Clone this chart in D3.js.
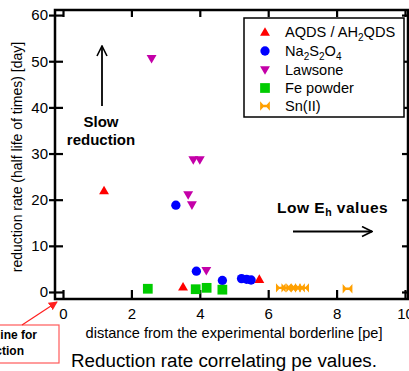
<!DOCTYPE html>
<html><head><meta charset="utf-8">
<script src="https://cdn.jsdelivr.net/npm/d3@7"></script>
<style>
html,body{margin:0;padding:0;background:#fff;overflow:hidden}
text{font-family:"Liberation Sans",Arial,sans-serif}
</style></head>
<body><svg id="c" width="409" height="371"></svg>
<script>
// ---- data ----
const xTicks = [0, 2, 4, 6, 8, 10];
const yTicks = [0, 10, 20, 30, 40, 50, 60];
const aqds = [[1.2, 22.0], [3.51, 1.15], [5.74, 2.8]];
const na2s2o4 = [[3.3, 18.8], [3.9, 4.5], [4.66, 2.5], [5.22, 2.9], [5.37, 2.75], [5.5, 2.6]];
const lawsone = [[2.59, 50.5], [3.81, 28.6], [4.0, 28.6], [3.66, 21.0], [3.77, 18.8], [4.19, 4.6]];
const fePowder = [[2.48, 0.7], [3.88, 0.6], [4.2, 0.9], [4.66, 0.5]];
const sn = [[6.37, 0.9], [6.53, 0.9], [6.67, 0.9], [6.81, 0.9], [6.93, 0.9], [7.05, 0.9], [8.32, 0.7]];
const seriesNames = ["AQDS / AH2QDS", "Na2S2O4", "Lawsone", "Fe powder", "Sn(II)"];

const svg = d3.select("#c");
const L = 55, R = 408, T = 10, B = 299;
const x = d3.scaleLinear().domain([-0.234, 10.088]).range([L, R]);
const y = d3.scaleLinear().domain([-1.52, 61.1]).range([B, T]);

// symbols
const triDown = {draw(ctx, size){ const s=Math.sqrt(size); const h=s*0.95, w=s*0.55;
  ctx.moveTo(-w,-h*0.45); ctx.lineTo(w,-h*0.45); ctx.lineTo(0,h*0.55); ctx.closePath(); }};
const triUp = {draw(ctx, size){ const s=Math.sqrt(size); const h=s*0.95, w=s*0.55;
  ctx.moveTo(-w,h*0.45); ctx.lineTo(w,h*0.45); ctx.lineTo(0,-h*0.55); ctx.closePath(); }};
const bowtie = {draw(ctx, size){ const s=Math.sqrt(size)/2; const w=s, h=s*0.95, k=s*0.35;
  ctx.moveTo(-w,-h); ctx.lineTo(-k,-k*0.7); ctx.lineTo(k,-k*0.7); ctx.lineTo(w,-h); ctx.lineTo(w,h);
  ctx.lineTo(k,k*0.7); ctx.lineTo(-k,k*0.7); ctx.lineTo(-w,h); ctx.closePath(); }};
const series = [
  {data: aqds, type: triUp, size: 81, color: "#ff0000"},
  {data: na2s2o4, type: d3.symbolCircle, size: 68, color: "#0000ff"},
  {data: lawsone, type: triDown, size: 81, color: "#c400a8"},
  {data: fePowder, type: d3.symbolSquare, size: 95, color: "#00cc00"},
  {data: sn, type: bowtie, size: 95, color: "#ffa000"}
];

// frame
svg.append("rect").attr("x", L).attr("y", T).attr("width", R - L).attr("height", B - T)
  .attr("fill", "none").attr("stroke", "#000").attr("stroke-width", 2.5);

function styleAxis(g){ g.select(".domain").remove(); g.selectAll("line").attr("stroke","#000").attr("stroke-width",2.2); }
// bottom axis (inward ticks)
svg.append("g").attr("transform", `translate(0,${B})`)
  .call(d3.axisTop(x).tickValues(xTicks).tickSize(9).tickFormat(""))
  .call(styleAxis);
svg.append("g").attr("transform", `translate(0,${B})`)
  .call(d3.axisBottom(x).tickValues(xTicks).tickSize(0).tickPadding(9).tickFormat(d3.format("d")))
  .call(g => { g.select(".domain").remove(); g.selectAll("text").attr("font-size", 15).attr("fill", "#000"); });
// top axis (inward)
svg.append("g").attr("transform", `translate(0,${T})`)
  .call(d3.axisBottom(x).tickValues(xTicks).tickSize(7).tickFormat(""))
  .call(styleAxis);
// left axis: outward + inward
svg.append("g").attr("transform", `translate(${L},0)`)
  .call(d3.axisLeft(y).tickValues(yTicks).tickSize(6).tickPadding(1).tickFormat(d3.format("d")))
  .call(g => { g.select(".domain").remove(); g.selectAll("line").attr("stroke","#000").attr("stroke-width",2.2);
    g.selectAll("text").attr("font-size", 15).attr("fill", "#000"); });
svg.append("g").attr("transform", `translate(${L},0)`)
  .call(d3.axisRight(y).tickValues(yTicks).tickSize(8).tickFormat(""))
  .call(styleAxis);
// right axis (inward)
svg.append("g").attr("transform", `translate(${R},0)`)
  .call(d3.axisLeft(y).tickValues(yTicks).tickSize(6).tickFormat(""))
  .call(styleAxis);

// points
series.forEach(s => {
  svg.append("g").selectAll("path").data(s.data).join("path")
    .attr("transform", d => `translate(${x(d[0])},${y(d[1])})`)
    .attr("d", d3.symbol().type(s.type).size(s.size))
    .attr("fill", s.color);
});

// axis labels
svg.append("text").attr("x", 234).attr("y", 338).attr("text-anchor", "middle")
  .attr("font-size", 14.6).text("distance from the experimental borderline [pe]");
svg.append("text").attr("transform", "translate(22,157) rotate(-90)").attr("text-anchor", "middle")
  .attr("font-size", 14).text("reduction rate (half life of times) [day]");
svg.append("text").attr("x", 224).attr("y", 367).attr("text-anchor", "middle")
  .attr("font-size", 18.8).text("Reduction rate correlating pe values.");

// legend
const lg = svg.append("g");
lg.append("rect").attr("x", 244).attr("y", 18).attr("width", 160).attr("height", 99)
  .attr("fill", "#fff").attr("stroke", "#000").attr("stroke-width", 1.5);
const rows = [32, 51, 70, 88, 106];
series.forEach((s, i) => {
  lg.append("path").attr("transform", `translate(265,${rows[i]})`)
    .attr("d", d3.symbol().type(s.type).size(s.size)).attr("fill", s.color);
});
function legendText(i, parts){
  const t = lg.append("text").attr("x", 285).attr("y", rows[i] + 5).attr("font-size", 14.6);
  parts.forEach(p => { const ts = t.append("tspan").text(p[0]);
    if (p[1]) ts.attr("font-size", 10).attr("dy", 4); else if (p[2]) ts.attr("dy", -4); });
}
legendText(0, [["AQDS / AH"], ["2", 1], ["QDS", 0, 1]]);
legendText(1, [["Na"], ["2", 1], ["S", 0, 1], ["2", 1], ["O", 0, 1], ["4", 1]]);
legendText(2, [[seriesNames[2]]]);
legendText(3, [[seriesNames[3]]]);
legendText(4, [[seriesNames[4]]]);

// annotations
const defs = svg.append("defs");
defs.append("marker").attr("id", "open").attr("viewBox", "0 0 12 12").attr("refX", 11).attr("refY", 6)
  .attr("markerWidth", 12).attr("markerHeight", 12).attr("markerUnits", "userSpaceOnUse").attr("orient", "auto")
  .append("path").attr("d", "M1,1 L11,6 L1,11").attr("fill", "none").attr("stroke", "#000").attr("stroke-width", 1.6);
defs.append("marker").attr("id", "redhead").attr("viewBox", "0 0 10 10").attr("refX", 9).attr("refY", 5)
  .attr("markerWidth", 9).attr("markerHeight", 9).attr("markerUnits", "userSpaceOnUse").attr("orient", "auto")
  .append("path").attr("d", "M0,0 L10,5 L0,10 Z").attr("fill", "#ff2020");

svg.append("line").attr("x1", 102).attr("y1", 106).attr("x2", 102).attr("y2", 46)
  .attr("stroke", "#000").attr("stroke-width", 1.8).attr("marker-end", "url(#open)");
svg.append("text").attr("x", 101).attr("y", 127).attr("text-anchor", "middle").attr("font-size", 15)
  .attr("font-weight", "bold").text("Slow");
svg.append("text").attr("x", 101).attr("y", 145).attr("text-anchor", "middle").attr("font-size", 15)
  .attr("font-weight", "bold").text("reduction");

const lt = svg.append("text").attr("x", 277).attr("y", 213).attr("font-size", 15.5).attr("font-weight", "bold")
  .attr("letter-spacing", 0.5);
lt.append("tspan").text("Low E");
lt.append("tspan").attr("font-size", 10.5).attr("dy", 3).text("h");
lt.append("tspan").attr("dy", -3).text(" values");
svg.append("line").attr("x1", 293).attr("y1", 231.5).attr("x2", 372).attr("y2", 231.5)
  .attr("stroke", "#000").attr("stroke-width", 1.8).attr("marker-end", "url(#open)");

// callout
svg.append("rect").attr("x", -120).attr("y", 325).attr("width", 179).attr("height", 38)
  .attr("fill", "#fff").attr("stroke", "#ff5a5a").attr("stroke-width", 1.2);
svg.append("text").attr("x", 37).attr("y", 339).attr("text-anchor", "end").attr("font-size", 12)
  .attr("font-weight", "bold").text("Borderline for");
svg.append("text").attr("x", 24).attr("y", 355).attr("text-anchor", "end").attr("font-size", 12)
  .attr("font-weight", "bold").text("reduction");
svg.append("line").attr("x1", 22).attr("y1", 325).attr("x2", 57).attr("y2", 302)
  .attr("stroke", "#ff2020").attr("stroke-width", 1.2).attr("marker-end", "url(#redhead)");
</script></body></html>
